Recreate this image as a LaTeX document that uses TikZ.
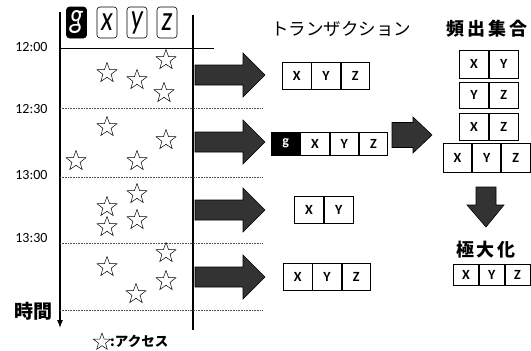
\documentclass[tikz,border=0pt]{standalone}
\usepackage{fontspec}
\setmainfont{Carlito}
\newfontfamily\jp{Noto Sans CJK JP}
\newfontfamily\jpk{Noto Sans CJK JP}[LetterSpace=16]
\usetikzlibrary{shapes.geometric,arrows.meta}
\tikzset{
  cell/.style={draw, line width=0.8pt, minimum width=28.5pt, minimum height=27pt, inner sep=0pt, anchor=west, font=\fontsize{14}{14}\selectfont\bfseries},
  starmark/.style={star, star points=5, star point ratio=2.45, draw, line width=0.5pt, minimum size=21pt, inner sep=0pt},
  bigarrow/.style={fill=black!80, draw=black, line width=0.6pt},
  hdr/.style={draw, line width=0.6pt, rounded corners=3pt, minimum width=20pt, minimum height=31pt, inner sep=0pt, font=\fontsize{27}{27}\selectfont\itshape},
  timelbl/.style={anchor=east, font=\fontsize{14}{14}\selectfont},
  sep/.style={densely dotted, line width=0.6pt, black!70},
  title/.style={font=\jp\fontsize{17.5}{18}\selectfont},
  ktitle/.style={font=\jpk\bfseries\fontsize{18}{18}\selectfont}
}
\newcommand\hbigarrow[2]{\filldraw[bigarrow,shift={(#1,#2)}] (0,-10) -- (48,-10) -- (48,-22) -- (70,0) -- (48,22) -- (48,10) -- (0,10) -- cycle;}
\begin{document}
\begin{tikzpicture}[x=1pt,y=-1pt]
\useasboundingbox (0,0) rectangle (531,351);
% header tabs
\node[hdr, fill=black, text=white] (hg) at (76.5,22.5) {\scalebox{1}[1.3]{g}};
\node[hdr] (hx) at (107,22.5) {\scalebox{1}[1.3]{x}};
\node[hdr] (hy) at (137,22.5) {\scalebox{1}[1.3]{y}};
\node[hdr] (hz) at (167,22.5) {\scalebox{1}[1.3]{z}};
% axes
\coordinate (axtop) at (60,12);
\coordinate (axbot) at (60,328);
\draw[line width=1.1pt, -{Latex[length=8pt,width=6pt]}] (axtop) -- (axbot);
\coordinate (rtop) at (193,15);
\coordinate (rbot) at (193,330);
\draw[line width=1.1pt] (rtop) -- (rbot);
\coordinate (h0a) at (60,48);
\coordinate (h0b) at (214,48);
\draw[line width=0.9pt] (h0a) -- (h0b);
% dotted separators
\foreach \yy/\nm in {108/a,177/b,243/c,310/d}{
  \coordinate (s\nm l) at (60,\yy);
  \coordinate (s\nm r) at (262,\yy);
  \draw[sep] (s\nm l) -- (s\nm r);
}
% time labels
\node[timelbl] (t1200) at (51,47) {12:00};
\node[timelbl] (t1230) at (51,109) {12:30};
\node[timelbl] (t1300) at (51,175) {13:00};
\node[timelbl] (t1330) at (51,238) {13:30};
\node[font=\jp\bfseries\fontsize{19}{19}\selectfont] (jikan) at (34,311) {時間};
% stars
\foreach \sx/\sy [count=\i] in {107/73,137/80,166/60,164/93,107/127,166/140,76/161,137/161,137/194,107/207,107/227,137/220,166/253,107/267,166/281,136/294}{
  \node[starmark] (st\i) at (\sx,\sy) {};
}
% legend
\node[starmark, minimum size=18pt] (legstar) at (102,342) {};
\node[anchor=west, inner sep=0pt, font=\jp\bfseries\fontsize{13.5}{14}\selectfont] (legtxt) at (110,341) {:アクセス};
% big arrows
\hbigarrow{195}{75}
\hbigarrow{195}{142}
\hbigarrow{195}{210}
\hbigarrow{195}{277}
% titles
\node[title] (ttr) at (341,29) {トランザクション};
\node[ktitle] (tfq) at (487,29) {頻出集合};
% transaction rows
\node[cell] (r1x) at (282,75.5) {X};
\node[cell] (r1y) at (r1x.east) {Y};
\node[cell] (r1z) at (r1y.east) {Z};
\node[cell, minimum height=23pt, fill=black, text=white] (r2g) at (271,143.5) {g};
\node[cell, minimum height=23pt] (r2x) at (r2g.east) {X};
\node[cell, minimum height=23pt] (r2y) at (r2x.east) {Y};
\node[cell, minimum height=23pt] (r2z) at (r2y.east) {Z};
\node[cell, minimum width=29pt] (r3x) at (294,209.5) {X};
\node[cell, minimum width=29pt] (r3y) at (r3x.east) {Y};
\node[cell] (r4x) at (283,276.5) {X};
\node[cell] (r4y) at (r4x.east) {Y};
\node[cell] (r4z) at (r4y.east) {Z};
% middle arrow
\filldraw[bigarrow] (392,122.5) -- (413,122.5) -- (413,117) -- (432,135) -- (413,153) -- (413,147.5) -- (392,147.5) -- cycle;
% frequent sets
\node[cell, minimum width=29pt, minimum height=28pt] (f1x) at (459,64) {X};
\node[cell, minimum width=29pt, minimum height=28pt] (f1y) at (f1x.east) {Y};
\node[cell, minimum width=29pt, minimum height=26pt] (f2y) at (459,95) {Y};
\node[cell, minimum width=29pt, minimum height=26pt] (f2z) at (f2y.east) {Z};
\node[cell, minimum width=29pt, minimum height=27pt] (f3x) at (459,126.5) {X};
\node[cell, minimum width=29pt, minimum height=27pt] (f3z) at (f3x.east) {Z};
\node[cell, minimum width=28.3pt, minimum height=29pt] (f4x) at (443,157.5) {X};
\node[cell, minimum width=28.3pt, minimum height=29pt] (f4y) at (f4x.east) {Y};
\node[cell, minimum width=28.3pt, minimum height=29pt] (f4z) at (f4y.east) {Z};
% down arrow
\filldraw[bigarrow] (476,187) -- (496,187) -- (496,205) -- (504,205) -- (486,227) -- (467,205) -- (476,205) -- cycle;
\node[ktitle] (tmx) at (486,250) {極大化};
\node[cell, minimum width=25pt, minimum height=21pt] (mx) at (453,275) {X};
\node[cell, minimum width=25pt, minimum height=21pt] (my) at (mx.east) {Y};
\node[cell, minimum width=25pt, minimum height=21pt] (mz) at (my.east) {Z};
\end{tikzpicture}
\end{document}
